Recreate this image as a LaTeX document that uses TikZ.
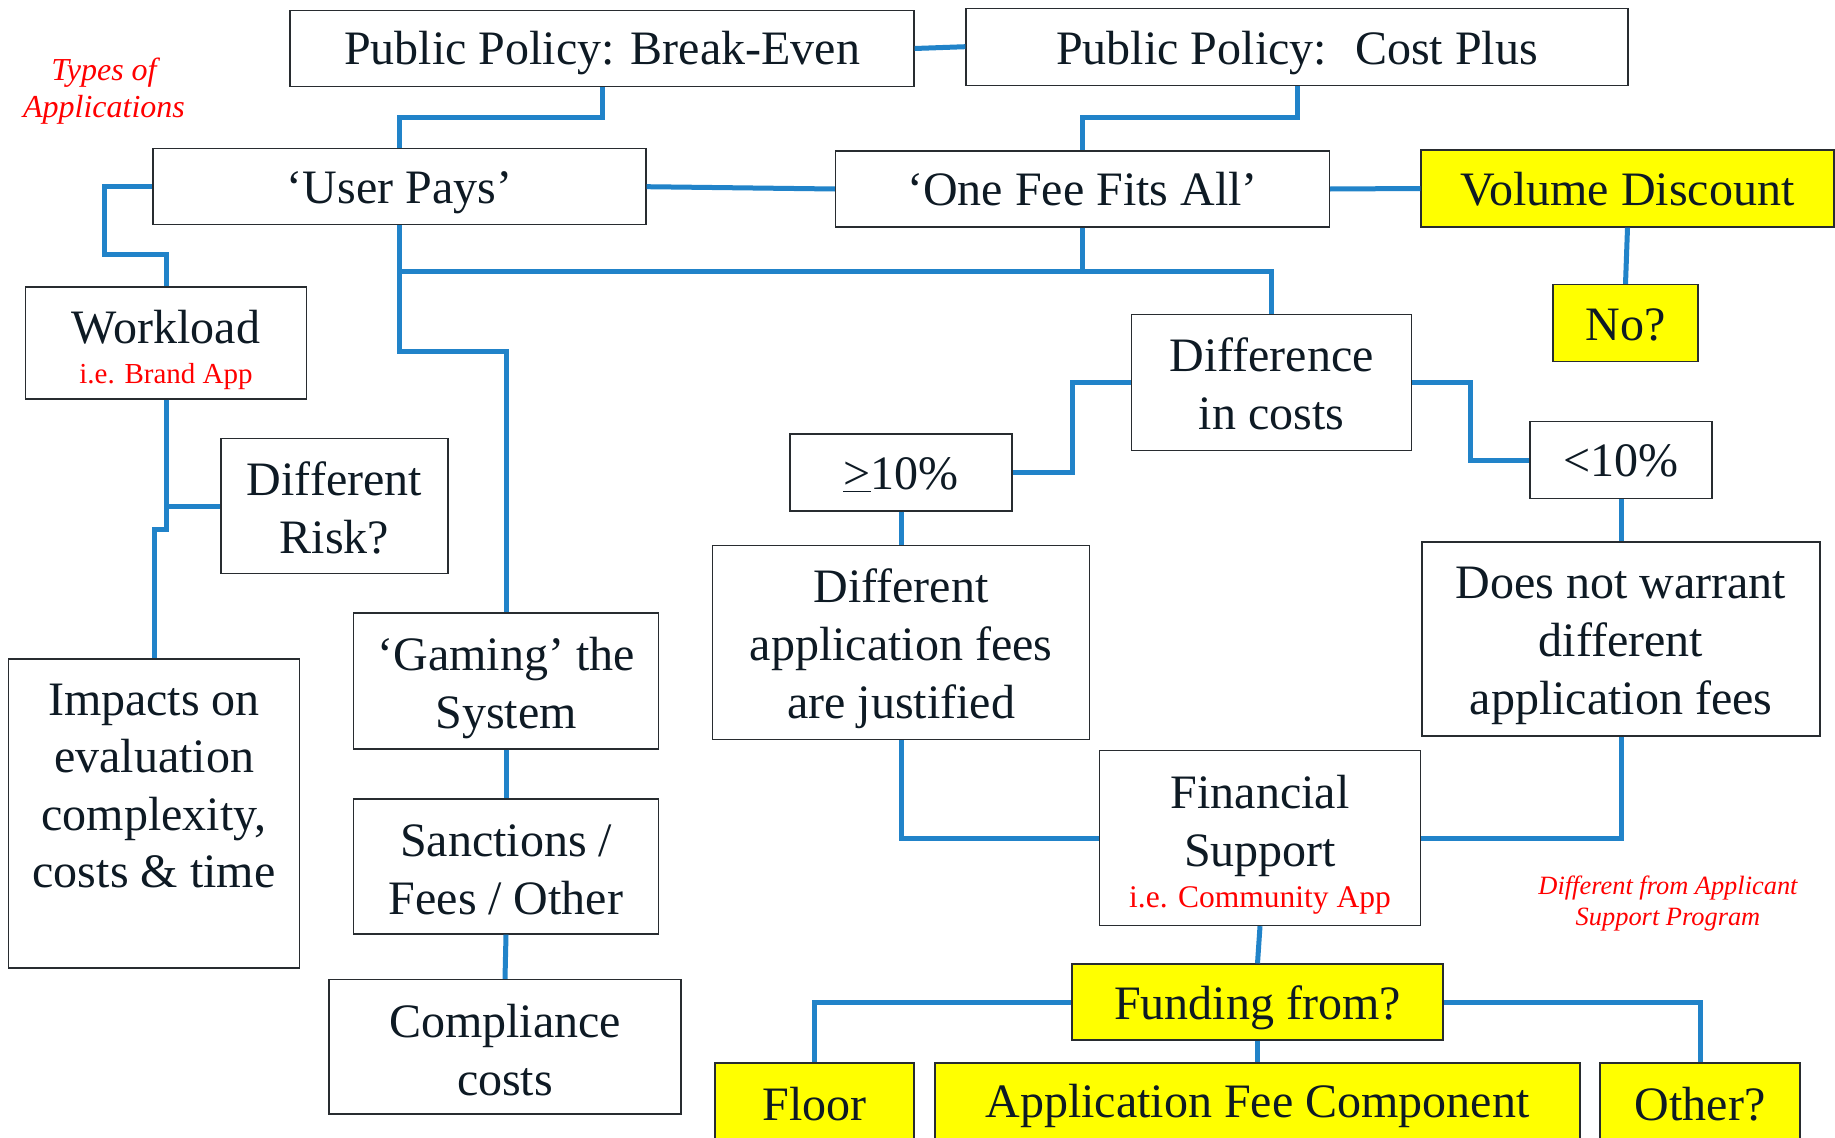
\documentclass[tikz,border=0pt]{standalone}
\usepackage{fontspec}
\setmainfont{Liberation Serif}
\usetikzlibrary{calc}
\definecolor{linkblue}{RGB}{33,131,201}
\definecolor{ink}{RGB}{14,26,36}
\definecolor{edgegray}{RGB}{40,44,48}
\definecolor{ylw}{RGB}{255,255,0}
\tikzset{
  box/.style={draw=edgegray, line width=1.3pt, fill=white, inner sep=0pt},
  ybox/.style={box, fill=ylw},
  boxtext/.style={inner sep=0pt, align=center, text=ink, font=\fontsize{48}{58}\selectfont},
  link/.style={draw=linkblue, line width=5pt},
  note/.style={text=red, align=center, font=\itshape\fontsize{32}{37.5}\selectfont}
}
% style, name, x, y, width, height, text shift down, text
\newcommand\mkbox[8]{%
  \node[#1, minimum width=#5pt, minimum height=#6pt] (#2) at (#3,#4) {};
  \node[boxtext] (#2t) at ([yshift=-#7pt]#2.center) {#8};}
\begin{document}
\begin{tikzpicture}[x=1pt,y=-1pt]
\useasboundingbox (0,0) rectangle (1835,1137);
\fill[white] (0,0) rectangle (1835,1137);

% nodes
\mkbox{box}{brk}{602}{48.5}{624}{76}{5}{Public Policy: Break-Even}
\mkbox{box}{cst}{1297}{46.7}{662}{77}{6}{Public Policy:~ Cost Plus}
\mkbox{box}{usr}{399.5}{186.7}{493}{76}{6}{‘User Pays’}
\mkbox{box}{one}{1082.5}{189}{494}{76}{0.5}{‘One Fee Fits All’}
\mkbox{ybox}{vol}{1627.5}{188.5}{413}{77}{1}{Volume Discount}
\mkbox{ybox}{no}{1625.5}{323}{145}{77}{2}{No?}
\mkbox{box}{wl}{166}{343}{281}{112}{7}{Workload\\[-18pt]{\color{red}\fontsize{29}{35}\selectfont i.e. Brand App}}
\mkbox{box}{risk}{334.5}{506}{227}{134.5}{2}{Different\\Risk?}
\mkbox{box}{diff}{1271.5}{382.7}{280}{136}{1}{Difference\\in costs}
\mkbox{box}{ge}{901}{472.5}{222}{77}{2}{\underline{>}10\%}
\mkbox{box}{lt}{1621}{460}{182}{77.5}{1}{<10\%}
\mkbox{box}{just}{901}{642.5}{377}{194}{6}{Different\\application fees\\are justified}
\mkbox{box}{nw}{1621}{639}{398}{194}{7}{Does not warrant\\different\\application fees}
\mkbox{box}{gam}{506}{681}{305.6}{136}{7}{‘Gaming’ the\\System}
\node[box, minimum width=291.6pt, minimum height=309pt] (imp) at (154,813.5) {};
\node[boxtext, font=\fontsize{48}{57.3}\selectfont] (impt) at (154,786) {Impacts on\\evaluation\\complexity,\\costs \& time};
\mkbox{box}{san}{506}{866.5}{305.6}{135}{3.5}{Sanctions /\\Fees / Other}
\mkbox{box}{com}{505}{1046.7}{352}{134.5}{3.5}{Compliance\\costs}
\mkbox{box}{fin}{1260}{838}{321}{175}{6.5}{Financial\\Support\\[-17pt]{\color{red}\fontsize{31.5}{37}\selectfont i.e. Community App}}
\mkbox{ybox}{fund}{1257.5}{1002}{371}{76}{6}{Funding from?}
\mkbox{ybox}{floor}{814.5}{1104}{199}{82}{0}{Floor}
\mkbox{ybox}{afc}{1257.5}{1104}{645}{82}{2}{Application Fee Component}
\mkbox{ybox}{oth}{1700}{1104}{200}{82}{0}{Other?}

\node[note] (types) at (104,91) {Types of\\Applications};
\node[note, font=\itshape\fontsize{26.4}{31.6}\selectfont] (asp) at (1668,903.5) {Different from Applicant\\Support Program};

% connectors
\coordinate (h1) at (0,271);
\coordinate (h2) at (0,351);
\draw[link] (brk.east) -- (cst.west);
\draw[link] (brk.south) -- ++(0,30.5) -| (usr.north);
\draw[link] (cst.south) -- ++(0,32) -| (one.north);
\draw[link] (usr.east) -- (one.west);
\draw[link] (one.east) -- (vol.west);
\draw[link] (vol.south) -- (no.north);
\draw[link] (usr.west) -| (104,254) -| (wl.north);
\draw[link] (usr.south) -- (usr.south |- h1) -- (diff.north |- h1) -- (diff.north);
\draw[link] (one.south) -- (one.south |- h1);
\draw[link] (usr.south |- h1) -- (usr.south |- h2) -| (gam.north);
\draw[link] (wl.south) |- (risk.west);
\draw[link] (wl.south |- risk.west) -- ++(0,23) -| (imp.north);
\draw[link] (diff.west) -- ++(-58.7,0) |- (ge.east);
\draw[link] (diff.east) -- ++(58.6,0) |- (lt.west);
\draw[link] (ge.south) -- (just.north);
\draw[link] (lt.south) -- (nw.north);
\draw[link] (just.south) |- (fin.west);
\draw[link] (nw.south) |- (fin.east);
\draw[link] (fin.south) -- (fund.north);
\draw[link] (fund.west) -| (floor.north);
\draw[link] (fund.east) -| (oth.north);
\draw[link] (fund.south) -- (afc.north);
\draw[link] (gam.south) -- (san.north);
\draw[link] (san.south) -- (com.north);
\end{tikzpicture}
\end{document}
